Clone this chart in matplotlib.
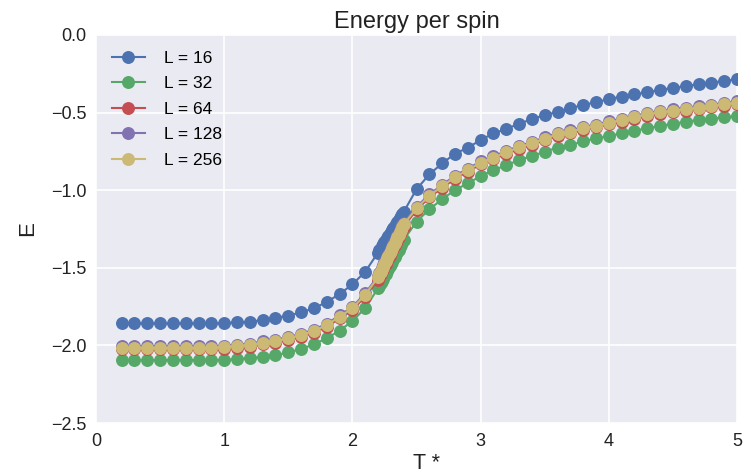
import matplotlib
matplotlib.use("Agg")
import matplotlib.pyplot as plt

# temperature grid: coarse steps, dense sampling near the transition
temps = [0.2, 0.3, 0.4, 0.5, 0.6, 0.7, 0.8, 0.9, 1.0, 1.1,
         1.2, 1.3, 1.4, 1.5, 1.6, 1.7, 1.8, 1.9, 2.0, 2.1,
         2.20, 2.21, 2.22, 2.23, 2.24, 2.25, 2.26, 2.27, 2.28, 2.29, 2.30,
         2.31, 2.32, 2.33, 2.34, 2.35, 2.36, 2.37, 2.38, 2.39, 2.40,
         2.5, 2.6, 2.7, 2.8, 2.9, 3.0, 3.1, 3.2, 3.3, 3.4, 3.5,
         3.6, 3.7, 3.8, 3.9, 4.0, 4.1, 4.2, 4.3, 4.4, 4.5,
         4.6, 4.7, 4.8, 4.9, 5.0]

labels = ["L = 16", "L = 32", "L = 64", "L = 128", "L = 256"]

e_16 = [-1.858, -1.858, -1.858, -1.858, -1.858, -1.858, -1.858, -1.858, -1.857, -1.851,
        -1.847, -1.837, -1.822, -1.808, -1.787, -1.761, -1.720, -1.669, -1.607, -1.525,
        -1.402, -1.388, -1.376, -1.362, -1.349, -1.334, -1.322, -1.308, -1.297, -1.282, -1.271,
        -1.256, -1.245, -1.230, -1.219, -1.204, -1.193, -1.178, -1.167, -1.152, -1.140,
        -0.994, -0.898, -0.827, -0.765, -0.726, -0.677, -0.634, -0.606, -0.571, -0.543, -0.515,
        -0.496, -0.472, -0.450, -0.434, -0.412, -0.397, -0.382, -0.369, -0.354, -0.341,
        -0.329, -0.318, -0.307, -0.296, -0.286]

e_32 = [-2.094, -2.094, -2.094, -2.094, -2.094, -2.094, -2.094, -2.094, -2.094, -2.088,
        -2.081, -2.073, -2.064, -2.045, -2.023, -1.993, -1.954, -1.905, -1.843, -1.759,
        -1.632, -1.614, -1.600, -1.583, -1.569, -1.552, -1.538, -1.521, -1.507, -1.491, -1.476,
        -1.460, -1.445, -1.429, -1.414, -1.398, -1.383, -1.367, -1.352, -1.336, -1.320,
        -1.203, -1.123, -1.058, -0.999, -0.956, -0.909, -0.870, -0.840, -0.805, -0.780, -0.752,
        -0.726, -0.709, -0.685, -0.666, -0.651, -0.634, -0.616, -0.601, -0.586, -0.573,
        -0.558, -0.548, -0.541, -0.530, -0.522]

e_64 = [-2.025, -2.025, -2.025, -2.025, -2.025, -2.025, -2.025, -2.025, -2.020, -2.014,
        -2.007, -1.994, -1.982, -1.966, -1.944, -1.918, -1.880, -1.826, -1.772, -1.685,
        -1.577, -1.557, -1.542, -1.523, -1.508, -1.489, -1.474, -1.455, -1.440, -1.421, -1.406,
        -1.387, -1.372, -1.353, -1.338, -1.319, -1.304, -1.285, -1.270, -1.251, -1.235,
        -1.128, -1.046, -0.985, -0.926, -0.880, -0.834, -0.800, -0.766, -0.735, -0.708, -0.678,
        -0.651, -0.633, -0.611, -0.596, -0.575, -0.558, -0.540, -0.521, -0.508, -0.498,
        -0.487, -0.478, -0.467, -0.457, -0.446]

e_128 = [-2.006, -2.006, -2.006, -2.006, -2.006, -2.006, -2.006, -2.006, -2.001, -1.995,
         -1.988, -1.974, -1.963, -1.946, -1.924, -1.898, -1.860, -1.806, -1.752, -1.664,
         -1.553, -1.533, -1.518, -1.499, -1.484, -1.465, -1.450, -1.431, -1.416, -1.397, -1.382,
         -1.363, -1.348, -1.329, -1.314, -1.295, -1.280, -1.261, -1.246, -1.227, -1.211,
         -1.108, -1.026, -0.966, -0.906, -0.861, -0.814, -0.781, -0.747, -0.715, -0.689, -0.659,
         -0.631, -0.614, -0.592, -0.577, -0.556, -0.539, -0.521, -0.502, -0.489, -0.479,
         -0.468, -0.459, -0.448, -0.438, -0.427]

e_256 = [-2.015, -2.015, -2.015, -2.015, -2.015, -2.015, -2.015, -2.015, -2.010, -2.004,
         -1.997, -1.983, -1.972, -1.955, -1.933, -1.907, -1.869, -1.815, -1.761, -1.673,
         -1.562, -1.542, -1.527, -1.508, -1.493, -1.474, -1.459, -1.440, -1.425, -1.406, -1.391,
         -1.372, -1.357, -1.338, -1.323, -1.304, -1.289, -1.270, -1.255, -1.236, -1.220,
         -1.117, -1.035, -0.975, -0.915, -0.870, -0.823, -0.790, -0.756, -0.724, -0.698, -0.668,
         -0.640, -0.623, -0.601, -0.586, -0.565, -0.548, -0.530, -0.511, -0.498, -0.488,
         -0.477, -0.468, -0.457, -0.447, -0.436]

colors = ["#4C72B0", "#55A868", "#C44E52", "#8172B2", "#CCB974"]

plt.rcParams['font.family'] = ['Liberation Sans', 'DejaVu Sans']

fig = plt.figure(figsize=(7.51, 4.76), dpi=100)
ax = fig.add_axes([0.1278, 0.1113, 0.8536, 0.8152])
ax.set_facecolor("#EAEAF2")
for s in ax.spines.values():
    s.set_visible(False)
ax.grid(True, color="white", linewidth=1.2)
ax.set_axisbelow(True)
ax.tick_params(length=0, labelsize=13, pad=7, colors="#222222")

for e, lab, c in zip([e_16, e_32, e_64, e_128, e_256], labels, colors):
    ax.plot(temps, e, "o-", color=c, label=lab, markersize=8.3, linewidth=1.5)

ax.set_xlim(0, 5)
ax.set_ylim(-2.5, 0.0)
ax.set_xticks([0, 1, 2, 3, 4, 5])
ax.set_yticks([-2.5, -2.0, -1.5, -1.0, -0.5, 0.0])
ax.set_yticklabels(["\u22122.5", "\u22122.0", "\u22121.5", "\u22121.0", "\u22120.5", "0.0"])

ax.set_title("Energy per spin", fontsize=17, color="#222222", pad=5)
ax.set_xlabel("T *", fontsize=15.5, color="#222222")
ax.xaxis.set_label_coords(0.515, -0.078)
ax.set_ylabel("E", fontsize=16, color="#222222", labelpad=9)

ax.legend(loc="upper left", frameon=False, numpoints=1, fontsize=12.5,
          handlelength=1.9, handletextpad=1.1, labelspacing=0.6,
          borderaxespad=0.5)

fig.savefig("out.png", dpi=100)
